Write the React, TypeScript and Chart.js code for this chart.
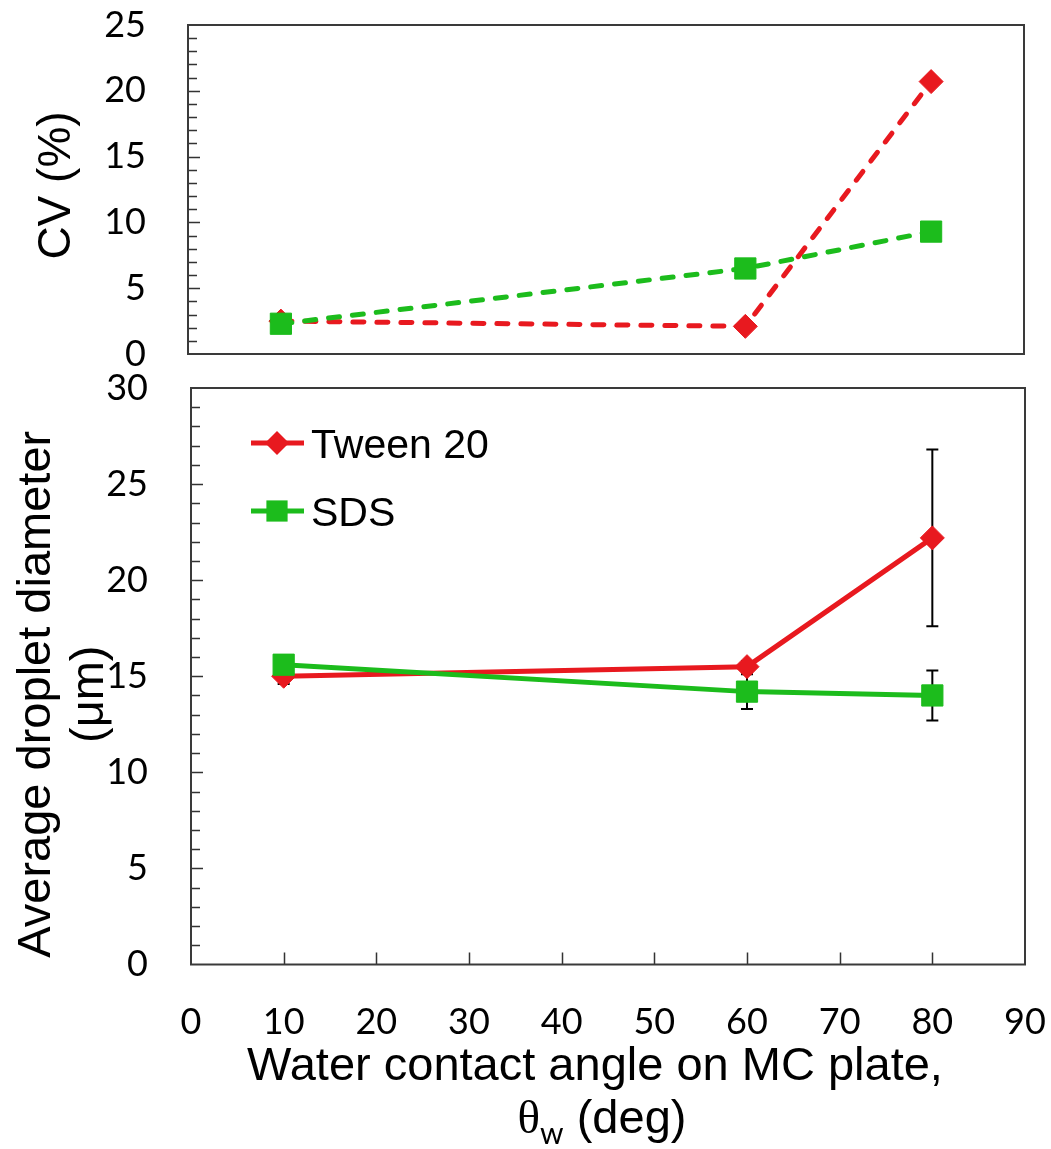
import React, { useEffect, useRef } from 'react';
import { Chart, registerables } from 'chart.js';

Chart.register(...registerables);

// ---- data ----
const angles = [10, 60, 80];
const seriesNames = ['Tween 20', 'SDS'];
const cvTween = [2.5, 2.1, 20.7];
const cvSDS = [2.3, 6.5, 9.3];
const diaTween = [15.0, 15.5, 22.2];
const diaSDS = [15.6, 14.2, 14.0];
const errTween = [0.4, 0.3, 4.6];
const errSDS = [0.3, 0.9, 1.3];
const xRange = [0, 90, 10];
const cvRange = [0, 25, 5];
const diaRange = [0, 30, 5];
const cvTitle = 'CV (%)';
const diaTitle = ['Average droplet diameter', '(\u03bcm)'];
const xTitleLine1 = 'Water contact angle on MC plate,';
const xTitleSymbol = '\u03b8';
const xTitleSub = 'w';
const xTitleRest = ' (deg)';

// ---- styles ----
const RED = '#e8191f';
const GREEN = '#1cbc1c';
const TICK_FONT = { family: 'Lato, "Open Sans", sans-serif', size: 36 };
const TITLE_FAMILY = '"Liberation Sans", Arial, sans-serif';

const toPts = (ys: number[]) => ys.map((y, i) => ({ x: angles[i], y }));

const framePlugin = (withXTicks: boolean) => ({
  id: 'frameTicks',
  afterDraw(chart: any) {
    const { ctx, chartArea: a, scales } = chart;
    const y = scales.y;
    const x = scales.x;
    ctx.save();
    ctx.strokeStyle = '#333';
    ctx.lineWidth = 1.5;
    ctx.beginPath();
    for (let v = y.min + 1; v < y.max; v++) {
      const py = Math.round(y.getPixelForValue(v)) + 0.5;
      const len = v % 5 === 0 ? 12 : 9;
      ctx.moveTo(a.left, py);
      ctx.lineTo(a.left + len, py);
    }
    if (withXTicks) {
      for (let v = x.min + xRange[2]; v < x.max; v += xRange[2]) {
        const px = Math.round(x.getPixelForValue(v)) + 0.5;
        ctx.moveTo(px, a.bottom);
        ctx.lineTo(px, a.bottom - 12);
      }
    }
    ctx.stroke();
    ctx.lineWidth = 2;
    ctx.strokeStyle = '#3a3a3a';
    ctx.strokeRect(a.left, a.top, a.right - a.left, a.bottom - a.top);
    ctx.restore();
  },
});

const errorBarPlugin = {
  id: 'errorBars',
  beforeDatasetsDraw(chart: any) {
    const { ctx, scales } = chart;
    const y = scales.y;
    ctx.save();
    ctx.strokeStyle = '#000';
    ctx.lineWidth = 2;
    chart.data.datasets.forEach((ds: any, i: number) => {
      if (!ds.errors) return;
      const meta = chart.getDatasetMeta(i);
      meta.data.forEach((pt: any, j: number) => {
        const v = ds.data[j].y;
        const e = ds.errors[j];
        const t = y.getPixelForValue(v + e);
        const b = y.getPixelForValue(v - e);
        ctx.beginPath();
        ctx.moveTo(pt.x, t);
        ctx.lineTo(pt.x, b);
        ctx.moveTo(pt.x - 6, t);
        ctx.lineTo(pt.x + 6, t);
        ctx.moveTo(pt.x - 6, b);
        ctx.lineTo(pt.x + 6, b);
        ctx.stroke();
      });
    });
    ctx.restore();
  },
};

const drawMarker = (ctx: any, style: string, cx: number, cy: number, r: number) => {
  ctx.beginPath();
  if (style === 'rectRot') {
    ctx.moveTo(cx, cy - r);
    ctx.lineTo(cx + r, cy);
    ctx.lineTo(cx, cy + r);
    ctx.lineTo(cx - r, cy);
    ctx.closePath();
  } else {
    const s = r * Math.SQRT1_2;
    ctx.rect(cx - s, cy - s, 2 * s, 2 * s);
  }
  ctx.fill();
};

const legendPlugin = {
  id: 'insideLegend',
  afterDatasetsDraw(chart: any) {
    const { ctx, chartArea: a } = chart;
    const rows = [55, 123];
    ctx.save();
    chart.data.datasets.forEach((ds: any, i: number) => {
      const cy = a.top + rows[i];
      ctx.strokeStyle = ds.borderColor;
      ctx.lineWidth = 5;
      ctx.beginPath();
      ctx.moveTo(a.left + 60, cy);
      ctx.lineTo(a.left + 113, cy);
      ctx.stroke();
      ctx.fillStyle = ds.pointBackgroundColor;
      drawMarker(ctx, ds.pointStyle, a.left + 86, cy, ds.pointRadius);
      ctx.fillStyle = '#000';
      ctx.font = `41px ${TITLE_FAMILY}`;
      ctx.textAlign = 'left';
      ctx.textBaseline = 'alphabetic';
      ctx.fillText(ds.label, a.left + 120, cy + 15);
    });
    ctx.restore();
  },
};

const topTitlePlugin = {
  id: 'topTitle',
  afterDraw(chart: any) {
    const { ctx, chartArea: a } = chart;
    ctx.save();
    ctx.fillStyle = '#000';
    ctx.font = `46px ${TITLE_FAMILY}`;
    ctx.textAlign = 'center';
    ctx.textBaseline = 'alphabetic';
    ctx.translate(70, (a.top + a.bottom) / 2 - 4);
    ctx.rotate(-Math.PI / 2);
    ctx.fillText(cvTitle, 0, 0);
    ctx.restore();
  },
};

const bottomTitlePlugin = {
  id: 'bottomTitles',
  afterDraw(chart: any) {
    const { ctx, chartArea: a } = chart;
    ctx.save();
    ctx.fillStyle = '#000';
    ctx.font = `47px ${TITLE_FAMILY}`;
    ctx.textAlign = 'center';
    ctx.textBaseline = 'alphabetic';
    const cy = (a.top + a.bottom) / 2 + 18;
    [50, 103].forEach((bx, i) => {
      ctx.save();
      ctx.translate(bx, cy);
      ctx.rotate(-Math.PI / 2);
      ctx.fillText(diaTitle[i], 0, 0);
      ctx.restore();
    });
    // x title
    const cx = (a.left + a.right) / 2;
    ctx.fillText(xTitleLine1, cx - 13, a.bottom + 115);
    const symFont = `47px "Liberation Serif", "DejaVu Serif", serif`;
    const subFont = `30px Lato, sans-serif`;
    const restFont = `47px ${TITLE_FAMILY}`;
    ctx.font = symFont;
    const w1 = ctx.measureText(xTitleSymbol).width;
    ctx.font = subFont;
    const w2 = ctx.measureText(xTitleSub).width;
    ctx.font = restFont;
    const w3 = ctx.measureText(xTitleRest).width;
    let sx = cx - 6 - (w1 + w2 + w3) / 2;
    const by = a.bottom + 168;
    ctx.textAlign = 'left';
    ctx.font = symFont;
    ctx.fillText(xTitleSymbol, sx, by);
    sx += w1;
    ctx.font = subFont;
    ctx.fillText(xTitleSub, sx, by + 11);
    sx += w2;
    ctx.font = restFont;
    ctx.fillText(xTitleRest, sx, by);
    ctx.restore();
  },
};

const makeDataset = (label: string, ys: number[], color: string, style: string, r: number, dashed: boolean, errs?: number[], order = 0) => ({
  label,
  data: toPts(ys),
  borderColor: color,
  backgroundColor: color,
  pointBackgroundColor: color,
  pointBorderColor: color,
  pointBorderWidth: 1,
  pointStyle: style,
  pointRadius: r,
  borderWidth: 5,
  borderDash: dashed ? [11, 13] : [],
  borderCapStyle: dashed ? 'round' : 'butt',
  tension: 0,
  fill: false,
  order,
  errors: errs,
});

const fixY = (width: number) => (s: any) => {
  s.width = width;
  s.paddingTop = 0;
  s.paddingBottom = 0;
};

export default function App() {
  const topRef = useRef<HTMLCanvasElement>(null);
  const botRef = useRef<HTMLCanvasElement>(null);

  useEffect(() => {
    const common = {
      animation: false as const,
      responsive: false,
      events: [] as any[],
    };
    const top = new Chart(topRef.current as HTMLCanvasElement, {
      type: 'line',
      data: {
        datasets: [
          makeDataset(seriesNames[0], cvTween, RED, 'rectRot', 12, true, undefined, 0),
          makeDataset(seriesNames[1], cvSDS, GREEN, 'rect', 15, true, undefined, -1),
        ] as any,
      },
      options: {
        ...common,
        layout: { padding: { top: 25, bottom: 46, left: 0, right: 27 } },
        plugins: { legend: { display: false }, tooltip: { enabled: false } },
        scales: {
          x: { type: 'linear', min: xRange[0], max: xRange[1], display: false },
          y: {
            type: 'linear',
            min: cvRange[0],
            max: cvRange[1],
            ticks: { stepSize: cvRange[2], font: TICK_FONT, color: '#000', padding: 42 },
            grid: { display: false, drawTicks: false },
            border: { display: false },
            afterFit: fixY(188),
          },
        },
      } as any,
      plugins: [framePlugin(false), topTitlePlugin],
    });
    const bot = new Chart(botRef.current as HTMLCanvasElement, {
      type: 'line',
      data: {
        datasets: [
          makeDataset(seriesNames[0], diaTween, RED, 'rectRot', 12, false, errTween, 0),
          makeDataset(seriesNames[1], diaSDS, GREEN, 'rect', 15, false, errSDS, -1),
        ] as any,
      },
      options: {
        ...common,
        layout: { padding: { top: 28, bottom: 0, left: 0, right: 26 } },
        plugins: { legend: { display: false }, tooltip: { enabled: false } },
        scales: {
          x: {
            type: 'linear',
            min: xRange[0],
            max: xRange[1],
            ticks: { stepSize: xRange[2], font: TICK_FONT, color: '#000', padding: 36 },
            grid: { display: false, drawTicks: false },
            border: { display: false },
            afterFit(s: any) {
              s.height = 184.5;
              s.paddingLeft = 0;
              s.paddingRight = 0;
            },
          },
          y: {
            type: 'linear',
            min: diaRange[0],
            max: diaRange[1],
            ticks: { stepSize: diaRange[2], font: TICK_FONT, color: '#000', padding: 43 },
            grid: { display: false, drawTicks: false },
            border: { display: false },
            afterFit: fixY(191),
          },
        },
      } as any,
      plugins: [errorBarPlugin, framePlugin(true), legendPlugin, bottomTitlePlugin],
    });
    return () => {
      top.destroy();
      bot.destroy();
    };
  }, []);

  return (
    <div style={{ position: 'absolute', left: 0, top: 0, width: 1051, height: 1149, background: '#fff', overflow: 'hidden' }}>
      <canvas ref={topRef} width={1051} height={400} style={{ position: 'absolute', left: 0, top: 0 }} />
      <canvas ref={botRef} width={1051} height={789} style={{ position: 'absolute', left: 0, top: 360 }} />
    </div>
  );
}
